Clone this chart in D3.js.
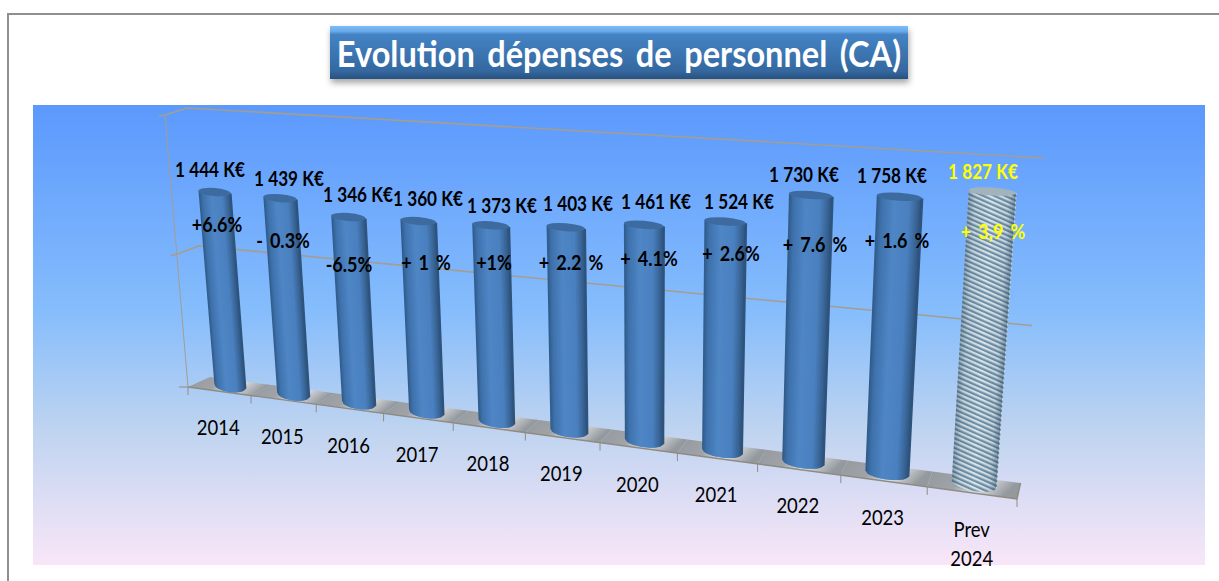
<!DOCTYPE html>
<html>
<head>
<meta charset="utf-8">
<script src="https://cdn.jsdelivr.net/npm/d3@7"></script>
<style>
  html, body { margin: 0; padding: 0; background: #fff; overflow: hidden; }
  text { font-family: Lato, "Open Sans", sans-serif; }
</style>
</head>
<body>
<div id="chart"></div>
<script>
// Data
const categories = ["2014", "2015", "2016", "2017", "2018", "2019", "2020", "2021", "2022", "2023", "Prev 2024"];
const amounts = [1444, 1439, 1346, 1360, 1373, 1403, 1461, 1524, 1730, 1758, 1827];
const amountLabels = ["1 444 K€", "1 439 K€", "1 346 K€", "1 360 K€", "1 373 K€", "1 403 K€", "1 461 K€", "1 524 K€", "1 730 K€", "1 758 K€", "1 827 K€"];
const growthLabels = ["+6.6%", "- 0.3%", "-6.5%", "+ 1 %", "+1%", "+ 2.2 %", "+ 4.1%", "+ 2.6%", "+ 7.6 %", "+ 1.6 %", "+ 3,9 %"];
const axisTicks = [0, 1000, 2000];

// Labels were moved by hand in the original, so they sit at their own spots
const amountLabelPos = [[210, 169], [289, 178], [358, 194], [428, 198], [502, 205], [578, 203], [656, 201], [739, 201], [804, 174], [892, 175], [983, 171]];
const growthLabelPos = [[217, 223], [283, 239], [349, 263], [426, 261], [494, 261], [571, 261], [649, 257], [731, 252], [815, 243], [897, 239], [993, 230]];

const width = 1219;
const height = 581;

const svg = d3.select("#chart").append("svg").attr("width", width).attr("height", height);
const defs = svg.append("defs");

// Outer frame
svg.append("path")
  .attr("d", `M8,${height} V14 H${width}`)
  .attr("fill", "none").attr("stroke", "#8f8f8f").attr("stroke-width", 2);

// Plot background
const bgGrad = defs.append("linearGradient").attr("id", "bg").attr("x1", 0).attr("x2", 0).attr("y1", 0).attr("y2", 1);
[[0, "#5b99fd"], [0.45, "#86bdfc"], [0.7, "#bdd3f0"], [1, "#f9e6f8"]].forEach(([o, c]) =>
  bgGrad.append("stop").attr("offset", o).attr("stop-color", c));
svg.append("rect").attr("x", 33).attr("y", 105).attr("width", 1172).attr("height", 460).attr("fill", "url(#bg)");

// Title box
const titleGrad = defs.append("linearGradient").attr("id", "titleBox").attr("x1", 0).attr("x2", 0).attr("y1", 0).attr("y2", 1);
[[0, "#79bdfb"], [0.1, "#6aaaea"], [0.16, "#4483c4"], [0.85, "#34689f"], [1, "#27507f"]].forEach(([o, c]) =>
  titleGrad.append("stop").attr("offset", o).attr("stop-color", c));
const shadow = defs.append("filter").attr("id", "boxShadow").attr("x", "-5%").attr("y", "-20%").attr("width", "110%").attr("height", "150%");
shadow.append("feDropShadow").attr("dx", 1).attr("dy", 4).attr("stdDeviation", 3).attr("flood-color", "#000").attr("flood-opacity", 0.35);
svg.append("rect").attr("x", 330).attr("y", 26).attr("width", 578).attr("height", 53)
  .attr("fill", "url(#titleBox)").attr("filter", "url(#boxShadow)");
svg.append("text").attr("transform", "translate(619,67) scale(0.93,1.06)")
  .attr("text-anchor", "middle").attr("fill", "#fff").attr("font-size", 35).attr("font-weight", 700)
  .attr("word-spacing", 5)
  .text("Evolution dépenses de personnel (CA)");

// Perspective: a homography from the unit square onto each depth plane
function squareToQuad(q) {
  const [p0, p1, p2, p3] = q; // (0,0) (1,0) (1,1) (0,1)
  const dx1 = p1[0] - p2[0], dx2 = p3[0] - p2[0], sx = p0[0] - p1[0] + p2[0] - p3[0];
  const dy1 = p1[1] - p2[1], dy2 = p3[1] - p2[1], sy = p0[1] - p1[1] + p2[1] - p3[1];
  const den = dx1 * dy2 - dx2 * dy1;
  const g = (sx * dy2 - dx2 * sy) / den;
  const h = (dx1 * sy - sx * dy1) / den;
  const a = p1[0] - p0[0] + g * p1[0], b = p3[0] - p0[0] + h * p3[0], c = p0[0];
  const d = p1[1] - p0[1] + g * p1[1], e = p3[1] - p0[1] + h * p3[1], f = p0[1];
  return (u, v) => {
    const w = g * u + h * v + 1;
    return [(a * u + b * v + c) / w, (d * u + e * v + f) / w];
  };
}

const frontPlane = [[188, 387], [1017, 499], [1040, 172], [165, 115]];
const backPlane = [[210, 377], [1020.5, 483], [1044, 158], [187, 108]];

const uScale = d3.scaleBand().domain(categories).range([0, 1]);
const vScale = d3.scaleLinear().domain([0, 2000]).range([0, 1]);

function project(u, value, depth) {
  const quad = frontPlane.map((p, i) => d3.interpolateArray(p, backPlane[i])(depth));
  return squareToQuad(quad)(u, vScale(value));
}

// Gridlines on the back wall and the left axis
const gridColor = "#a39d92";
const lineGen = d3.line();
const wall = svg.append("g").attr("fill", "none").attr("stroke", gridColor).attr("stroke-width", 1.6);
axisTicks.slice(1).forEach((t) => {
  wall.append("path").attr("d", lineGen([project(0, t, 0), project(0, t, 1), project(1, t, 1)]));
  const p = project(0, t, 0);
  wall.append("path").attr("d", lineGen([[p[0] - 6, p[1] + 1], p]));
});
wall.append("path").attr("d", lineGen([project(0, 0, 0), project(0, 2000, 0)])).attr("stroke-width", 1);

// Floor, one glossy cell per category
const floorGrad = defs.append("linearGradient").attr("id", "floor").attr("x1", 0).attr("x2", 1).attr("y1", 0).attr("y2", 0.3);
[[0, "#94999e"], [0.42, "#a0a4a8"], [0.68, "#dde0e3"], [1, "#94999e"]].forEach(([o, c]) =>
  floorGrad.append("stop").attr("offset", o).attr("stop-color", c));
const floor = svg.append("g");
categories.forEach((cat) => {
  const u0 = uScale(cat), u1 = u0 + uScale.bandwidth();
  floor.append("path")
    .attr("d", lineGen([project(u0, 0, 0), project(u1, 0, 0), project(u1, 0, 1), project(u0, 0, 1)]) + "Z")
    .attr("fill", "url(#floor)");
});
floor.append("path").attr("d", lineGen([project(0, 0, 0), project(1, 0, 0), project(1, 0, 1)]))
  .attr("fill", "none").attr("stroke", "#8f8a82").attr("stroke-width", 1.4);

// Ticks under the floor edge
const tickEdges = categories.map((c) => uScale(c)).concat([1]);
floor.selectAll(".tick").data(tickEdges).enter().append("path").attr("class", "tick")
  .attr("d", (u) => {
    const p = project(u, 0, 0);
    return lineGen([p, [p[0], p[1] + 8]]);
  })
  .attr("stroke", "#918c84").attr("stroke-width", 1);
const origin = project(0, 0, 0);
floor.append("path").attr("d", lineGen([[origin[0] - 9, origin[1]], origin])).attr("stroke", "#918c84");

// Cylinders are drawn as narrow upright slices so the shading follows the slant
const pattern = defs.append("pattern").attr("id", "hatch").attr("patternUnits", "userSpaceOnUse")
  .attr("width", 8).attr("height", 4.4).attr("patternTransform", "rotate(24)");
pattern.append("rect").attr("width", 8).attr("height", 4.4).attr("fill", "#dbe6ea");
pattern.append("rect").attr("y", 2.2).attr("width", 8).attr("height", 2.2).attr("fill", "#6f90a9");

const shade = d3.scaleLinear()
  .domain([-1, -0.75, -0.2, 0.45, 0.85, 1])
  .range(["#2f5a88", "#3f72ac", "#4f86c6", "#4a80bf", "#36608f", "#2b4f78"]);
const hatchShade = d3.scaleLinear()
  .domain([-1, -0.7, 0, 0.7, 1])
  .range([0.4, 0.1, 0, 0.1, 0.5]);

const sliceStep = 1 / 14;
const sliceSteps = d3.range(-1, 1, sliceStep);
const halfWidth = uScale.bandwidth() * 0.25;
const capRy = 4;
const bars = svg.append("g");

categories.forEach((cat, i) => {
  const uc = uScale(cat) + uScale.bandwidth() / 2;
  const isForecast = i === categories.length - 1;
  const g = bars.append("g");

  const edge = (s, value, sag) => {
    const p = project(uc + s * halfWidth, value, 0.5);
    return [p[0], p[1] + sag * Math.sqrt(Math.max(0, 1 - s * s))];
  };
  const sliceShape = (s, overlap) => lineGen([
    edge(s, amounts[i], 0), edge(s + sliceStep + overlap, amounts[i], 0),
    edge(s + sliceStep + overlap, 0, capRy + 2), edge(s, 0, capRy + 2)]) + "Z";

  if (isForecast) {
    // hatch first, then a see-through shading on top
    sliceSteps.forEach((s) => {
      g.append("path").attr("d", sliceShape(s, 0.03)).attr("fill", "url(#hatch)");
    });
    sliceSteps.forEach((s) => {
      g.append("path").attr("d", sliceShape(s, 0))
        .attr("fill", "#1d3c58").attr("fill-opacity", hatchShade(s + sliceStep / 2));
    });
  } else {
    // overlap each slice under the next one so no seams show
    sliceSteps.forEach((s) => {
      g.append("path").attr("d", sliceShape(s, s + sliceStep < 1 ? 0.06 : 0))
        .attr("fill", shade(s + sliceStep / 2));
    });
  }

  // Top cap
  const left = edge(-1, amounts[i], 0), right = edge(1, amounts[i], 0);
  const rx = Math.hypot(right[0] - left[0], right[1] - left[1]) / 2;
  const angle = Math.atan2(right[1] - left[1], right[0] - left[0]) * 180 / Math.PI;
  g.append("ellipse")
    .attr("transform", `translate(${(left[0] + right[0]) / 2},${(left[1] + right[1]) / 2}) rotate(${angle})`)
    .attr("rx", rx).attr("ry", capRy)
    .attr("fill", isForecast ? "#a3b3bc" : "#3d6a9f");
});

// Labels
function label(parent, pos, txt, size, color, weight, wordSpacing = 0) {
  parent.append("text")
    .attr("transform", `translate(${pos[0]},${pos[1]}) scale(0.88,1.05)`)
    .attr("text-anchor", "middle").attr("dominant-baseline", "central")
    .attr("font-size", size).attr("font-weight", weight).attr("fill", color)
    .attr("word-spacing", wordSpacing)
    .text(txt);
}

const labels = svg.append("g");
const lastIdx = categories.length - 1;
amountLabels.forEach((t, i) => label(labels, amountLabelPos[i], t, 19.5, i === lastIdx ? "#ffff00" : "#000", 700));
growthLabels.forEach((t, i) => label(labels, growthLabelPos[i], t, 20.5, i === lastIdx ? "#ffff00" : "#000", 700, 3));

categories.forEach((cat, i) => {
  const uc = uScale(cat) + uScale.bandwidth() / 2;
  const p = project(uc, 0, 0);
  const lines = cat.split(" ");
  lines.forEach((line, k) => label(labels, [p[0] + (i === lastIdx ? 1 : 0) - 1, p[1] + 35 + k * 29], line, 21, "#000", 400));
});
</script>
</body>
</html>
